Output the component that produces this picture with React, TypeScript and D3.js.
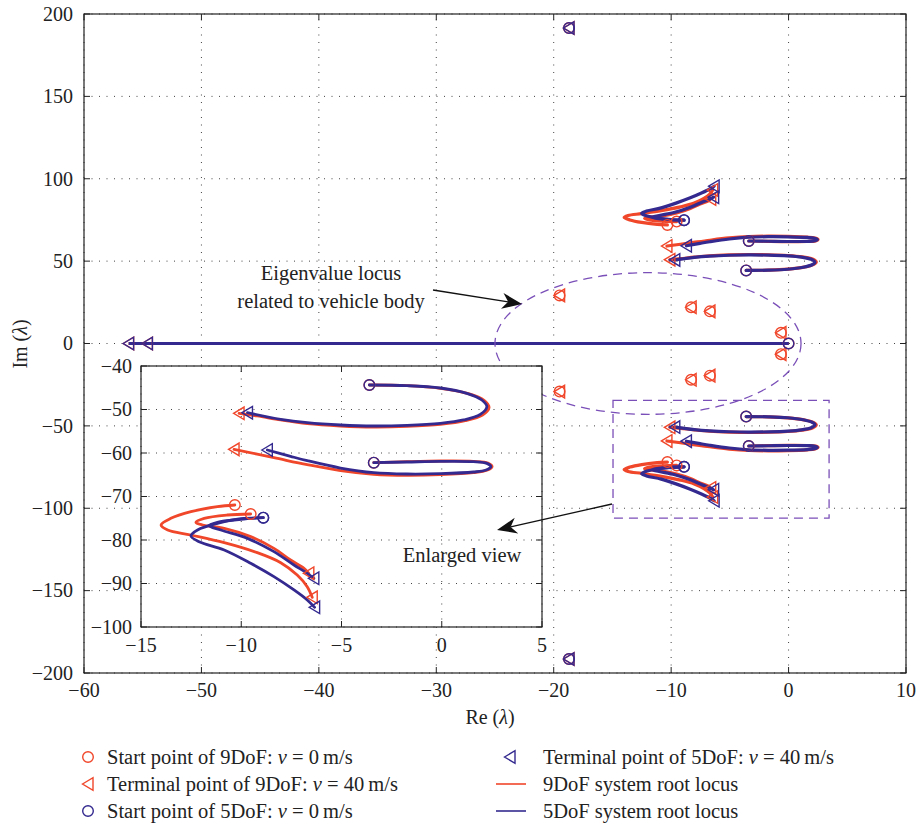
import React from "react";
import * as d3 from "d3";

type Pt = [number, number];

// Complex-plane branches of the lower half-plane (Re, Im); the upper half is the conjugate.
const loopA9: Pt[] = [[-3.61,-44.37],[-1.73,-44.52],[-0.07,-45.13],[1.33,-46.36],[2.11,-47.89],[2.36,-49.5],[2.03,-51.26],[1.17,-52.57],[-0.07,-53.41],[-1.73,-53.87],[-3.39,-54.02],[-5.05,-53.79],[-6.71,-53.26],[-8.03,-52.41],[-9.2,-51.49],[-10.11,-50.88]];
const loopA5: Pt[] = [[-3.61,-44.37],[-1.73,-44.52],[-0.07,-45.06],[1.25,-46.28],[2.0,-47.82],[2.25,-49.35],[1.92,-51.11],[1.09,-52.41],[-0.07,-53.18],[-1.73,-53.64],[-3.39,-53.79],[-5.05,-53.56],[-6.71,-53.03],[-8.03,-52.26],[-9.69,-50.73]];
const loopB9: Pt[] = [[-3.39,-62.22],[-1.73,-61.99],[-0.07,-61.84],[1.58,-61.92],[2.3,-62.3],[2.51,-63.14],[2.25,-63.98],[1.58,-64.52],[-0.07,-64.98],[-1.73,-65.13],[-3.39,-64.9],[-5.05,-64.06],[-6.71,-62.68],[-8.37,-61.07],[-10.36,-59.16]];
const loopB5: Pt[] = [[-3.39,-62.22],[-1.73,-62.07],[-0.07,-61.92],[1.58,-61.99],[2.25,-62.38],[2.45,-63.14],[2.21,-63.91],[1.58,-64.37],[-0.07,-64.75],[-1.73,-64.83],[-3.39,-64.52],[-5.05,-63.45],[-6.71,-61.76],[-7.54,-60.77],[-8.7,-59.31]];
const hookC9: Pt[] = [[-10.32,-71.95],[-11.19,-72.34],[-12.51,-73.49],[-13.51,-75.02],[-14.0,-76.55],[-13.67,-77.7],[-12.51,-78.85],[-10.85,-80.61],[-9.2,-82.91],[-8.03,-85.21],[-7.21,-88.05],[-6.71,-90.73],[-6.46,-93.18]];
const hookD9: Pt[] = [[-9.53,-74.02],[-10.69,-74.25],[-11.85,-75.02],[-12.26,-75.94],[-11.93,-76.55],[-10.85,-77.32],[-9.53,-79.23],[-8.37,-81.92],[-7.54,-84.6],[-6.87,-86.51],[-6.63,-87.66]];
const hookE5: Pt[] = [[-8.9,-74.87],[-10.02,-75.1],[-11.19,-76.17],[-12.18,-77.7],[-12.51,-79.08],[-12.1,-80.38],[-10.85,-82.3],[-9.53,-85.36],[-8.37,-88.43],[-7.37,-91.49],[-6.71,-93.79],[-6.34,-95.48]];
const hookF5: Pt[] = [[-8.9,-74.87],[-10.02,-75.25],[-11.19,-75.94],[-11.6,-76.7],[-11.02,-77.7],[-9.69,-79.62],[-8.37,-82.68],[-7.37,-85.75],[-6.71,-87.66],[-6.38,-88.81]];
// Real-axis branches (both models)
const realR1: Pt[] = [[0, 0], [-56.2, 0]];
const realR2: Pt[] = [[0, 0], [-54.6, 0]];
// Eigenvalues that stay put as speed rises (start = terminal)
const fixedBoth: Pt[] = [[-18.7, 191.5], [-18.7, -191.5]];
const fixed9: Pt[] = [[-19.5, 29.2], [-19.5, -29.2], [-8.3, 22], [-8.3, -22], [-6.7, 19.5], [-6.7, -19.5], [-0.65, 6.5], [-0.65, -6.5]];

const xTicksMain = [-60, -50, -40, -30, -20, -10, 0, 10];
const yTicksMain = [-200, -150, -100, -50, 0, 50, 100, 150, 200];
const xTicksInset = [-15, -10, -5, 0, 5];
const yTicksInset = [-100, -90, -80, -70, -60, -50, -40];

const legendLeft = ["Start point of 9DoF: ", "Terminal point of 9DoF: ", "Start point of 5DoF: "];
const legendLeftTail = [" = 0\u2009m/s", " = 40\u2009m/s", " = 0\u2009m/s"];
const legendRight = ["Terminal point of 5DoF: ", "9DoF system root locus", "5DoF system root locus"];

const RED = "#f0462a";
const BLUE = "#33298f";
const PURPLE = "#7a4fb8";
const FONT = "'Liberation Serif', 'DejaVu Serif', serif";

const conj = (p: Pt[]): Pt[] => p.map(([a, b]) => [a, -b] as Pt);

const branches9 = [loopA9, loopB9, hookC9, hookD9];
const branches5 = [loopA5, loopB5, hookE5, hookF5];

const fmt = (v: number) => (v < 0 ? "\u2212" + Math.abs(v) : String(v));

function Circ({ x, y, c }: { x: number; y: number; c: string }) {
  return <circle cx={x} cy={y} r={5.3} fill="none" stroke={c} strokeWidth={1.4} />;
}
function Tri({ x, y, c }: { x: number; y: number; c: string }) {
  return (
    <path d={`M${x - 5.5},${y} L${x + 5},${y - 6.3} L${x + 5},${y + 6.3} Z`} fill="none" stroke={c} strokeWidth={1.4} strokeLinejoin="miter" />
  );
}

function Arrow({ x1, y1, x2, y2 }: { x1: number; y1: number; x2: number; y2: number }) {
  const ang = Math.atan2(y2 - y1, x2 - x1);
  const L = 20, Wd = 8, N = 14;
  const ux = Math.cos(ang), uy = Math.sin(ang);
  const px = -uy, py = ux;
  const bx = x2 - ux * L, by = y2 - uy * L;
  const nx = x2 - ux * N, ny = y2 - uy * N;
  const head = `M${x2},${y2} L${bx + px * Wd},${by + py * Wd} L${nx},${ny} L${bx - px * Wd},${by - py * Wd} Z`;
  return (
    <g>
      <line x1={x1} y1={y1} x2={nx} y2={ny} stroke="#111" strokeWidth={1.3} />
      <path d={head} fill="#111" />
    </g>
  );
}

type Scales = { x: d3.ScaleLinear<number, number>; y: d3.ScaleLinear<number, number> };

function Locus({ x, y, lw }: Scales & { lw: number }) {
  const line = d3.line<Pt>().x((d) => x(d[0])).y((d) => y(d[1])).curve(d3.curveCatmullRom.alpha(0.5));
  const all9 = [...branches9, ...branches9.map(conj)];
  const all5 = [...branches5, ...branches5.map(conj)];
  const starts = (bs: Pt[][]) => bs.map((b) => b[0]);
  const ends = (bs: Pt[][]) => bs.map((b) => b[b.length - 1]);
  return (
    <g>
      {[realR1, realR2].map((b, i) => (
        <path key={"r9" + i} d={line(b) || ""} fill="none" stroke={RED} strokeWidth={lw} />
      ))}
      {all9.map((b, i) => (
        <path key={"c9" + i} d={line(b) || ""} fill="none" stroke={RED} strokeWidth={lw} strokeLinecap="round" />
      ))}
      {[realR1, realR2].map((b, i) => (
        <path key={"r5" + i} d={line(b) || ""} fill="none" stroke={BLUE} strokeWidth={lw} />
      ))}
      {all5.map((b, i) => (
        <path key={"c5" + i} d={line(b) || ""} fill="none" stroke={BLUE} strokeWidth={lw} strokeLinecap="round" />
      ))}
      {[...starts(all9), ...fixed9, ...fixedBoth, [0, 0] as Pt].map((p, i) => (
        <Circ key={"s9" + i} x={x(p[0])} y={y(p[1])} c={RED} />
      ))}
      {[...ends(all9), ...ends([realR1, realR2]), ...fixed9, ...fixedBoth].map((p, i) => (
        <Tri key={"e9" + i} x={x(p[0])} y={y(p[1])} c={RED} />
      ))}
      {[...starts(all5), ...fixedBoth, [0, 0] as Pt].map((p, i) => (
        <Circ key={"s5" + i} x={x(p[0])} y={y(p[1])} c={BLUE} />
      ))}
      {[...ends(all5), ...ends([realR1, realR2]), ...fixedBoth].map((p, i) => (
        <Tri key={"e5" + i} x={x(p[0])} y={y(p[1])} c={BLUE} />
      ))}
    </g>
  );
}

function Frame({ x, y, xt, yt, fs, xLabelY, yLabelX }: Scales & { xt: number[]; yt: number[]; fs: number; xLabelY: number; yLabelX: number }) {
  const [x0, x1] = x.range();
  const [y0, y1] = y.range();
  const tk = 6;
  return (
    <g>
      {xt.map((v) => (
        <line key={"gx" + v} x1={x(v)} x2={x(v)} y1={y0} y2={y1} stroke="#444" strokeWidth={1} strokeDasharray="1 6.5" />
      ))}
      {yt.map((v) => (
        <line key={"gy" + v} x1={x0} x2={x1} y1={y(v)} y2={y(v)} stroke="#444" strokeWidth={1} strokeDasharray="1 6.5" />
      ))}
      {xt.map((v) => (
        <g key={"tx" + v}>
          <line x1={x(v)} x2={x(v)} y1={y0} y2={y0 - tk} stroke="#222" />
          <line x1={x(v)} x2={x(v)} y1={y1} y2={y1 + tk} stroke="#222" />
          <text x={x(v)} y={xLabelY} textAnchor="middle" fontSize={fs} fontFamily={FONT} fill="#222">{fmt(v)}</text>
        </g>
      ))}
      {yt.map((v) => (
        <g key={"ty" + v}>
          <line x1={x0} x2={x0 + tk} y1={y(v)} y2={y(v)} stroke="#222" />
          <line x1={x1} x2={x1 - tk} y1={y(v)} y2={y(v)} stroke="#222" />
          <text x={yLabelX} y={y(v)} dy="0.34em" textAnchor="end" fontSize={fs} fontFamily={FONT} fill="#222">{fmt(v)}</text>
        </g>
      ))}
    </g>
  );
}

export default function App() {
  const W = 916, H = 827;
  const x = d3.scaleLinear().domain([-60, 10]).range([84, 906]);
  const y = d3.scaleLinear().domain([-200, 200]).range([673, 14]);
  const xi = d3.scaleLinear().domain([-15, 5]).range([141, 542]);
  const yi = d3.scaleLinear().domain([-100, -40]).range([627, 366]);

  // Dashed ellipse around the body-mode eigenvalues, dashed box marking the zoomed region
  const ellC: Pt = [-11.97, 0];
  const ellR: Pt = [13.03, 43];
  const boxRe: Pt = [-14.95, 3.45];
  const boxIm: Pt = [-106, -34.5];

  const legRows = [757, 784, 811];
  const LFS = 20.5;

  return (
    <svg width={W} height={H} style={{ position: "absolute", left: 0, top: 0, background: "#fff" }}>
      <defs>
        <clipPath id="mainClip">
          <rect x={84} y={14} width={822} height={659} />
        </clipPath>
        <clipPath id="insetClip">
          <rect x={141} y={366} width={401} height={261} />
        </clipPath>
      </defs>
      <rect width={W} height={H} fill="#fff" />

      <Frame x={x} y={y} xt={xTicksMain} yt={yTicksMain} fs={20} xLabelY={697} yLabelX={73} />

      <g clipPath="url(#mainClip)">
        <Locus x={x} y={y} lw={3.2} />
        <ellipse cx={x(ellC[0])} cy={y(ellC[1])} rx={x(ellR[0]) - x(0)} ry={y(0) - y(ellR[1])} fill="none" stroke={PURPLE} strokeWidth={1.3} strokeDasharray="9 6" />
        <rect x={x(boxRe[0])} y={y(boxIm[1])} width={x(boxRe[1]) - x(boxRe[0])} height={y(boxIm[0]) - y(boxIm[1])} fill="none" stroke={PURPLE} strokeWidth={1.3} strokeDasharray="9 6" />
      </g>
      <rect x={84} y={14} width={822} height={659} fill="none" stroke="#222" strokeWidth={1.2} />

      {/* inset: enlarged lower-half view */}
      <rect x={141} y={366} width={401} height={261} fill="#fff" />
      <Frame x={xi} y={yi} xt={xTicksInset} yt={yTicksInset} fs={20} xLabelY={652} yLabelX={132} />
      <g clipPath="url(#insetClip)">
        <Locus x={xi} y={yi} lw={2.8} />
      </g>
      <rect x={141} y={366} width={401} height={261} fill="none" stroke="#222" strokeWidth={1.2} />

      {/* annotations */}
      <text x={331} y={280} textAnchor="middle" fontSize={20.5} fontFamily={FONT} fill="#222">Eigenvalue locus</text>
      <text x={331} y={308} textAnchor="middle" fontSize={20.5} fontFamily={FONT} fill="#222">related to vehicle body</text>
      <Arrow x1={433} y1={290} x2={522} y2={304} />
      <text x={462} y={562} textAnchor="middle" fontSize={20.5} fontFamily={FONT} fill="#222">Enlarged view</text>
      <Arrow x1={612} y1={504} x2={497} y2={530} />

      {/* axis titles */}
      <text x={490} y={724} textAnchor="middle" fontSize={20} fontFamily={FONT} fill="#222">
        Re (<tspan fontStyle="italic">λ</tspan>)
      </text>
      <text transform="translate(27,344) rotate(-90)" textAnchor="middle" fontSize={20} fontFamily={FONT} fill="#222">
        Im (<tspan fontStyle="italic">λ</tspan>)
      </text>

      {/* legend */}
      <Circ x={88} y={legRows[0]} c={RED} />
      <Tri x={88} y={legRows[1]} c={RED} />
      <Circ x={88} y={legRows[2]} c={BLUE} />
      {legendLeft.map((t, i) => (
        <text key={"ll" + i} x={107} y={legRows[i]} dy="0.33em" fontSize={LFS} fontFamily={FONT} fill="#222">
          {t}
          <tspan fontStyle="italic">v</tspan>
          {legendLeftTail[i]}
        </text>
      ))}
      <Tri x={510} y={legRows[0]} c={BLUE} />
      <line x1={496} x2={526} y1={legRows[1]} y2={legRows[1]} stroke={RED} strokeWidth={1.6} />
      <line x1={496} x2={526} y1={legRows[2]} y2={legRows[2]} stroke={BLUE} strokeWidth={1.6} />
      <text x={543} y={legRows[0]} dy="0.33em" fontSize={LFS} fontFamily={FONT} fill="#222">
        {legendRight[0]}
        <tspan fontStyle="italic">v</tspan>
        {" = 40\u2009m/s"}
      </text>
      {legendRight.slice(1).map((t, i) => (
        <text key={"lr" + i} x={543} y={legRows[i + 1]} dy="0.33em" fontSize={LFS} fontFamily={FONT} fill="#222">
          {t}
        </text>
      ))}
    </svg>
  );
}
